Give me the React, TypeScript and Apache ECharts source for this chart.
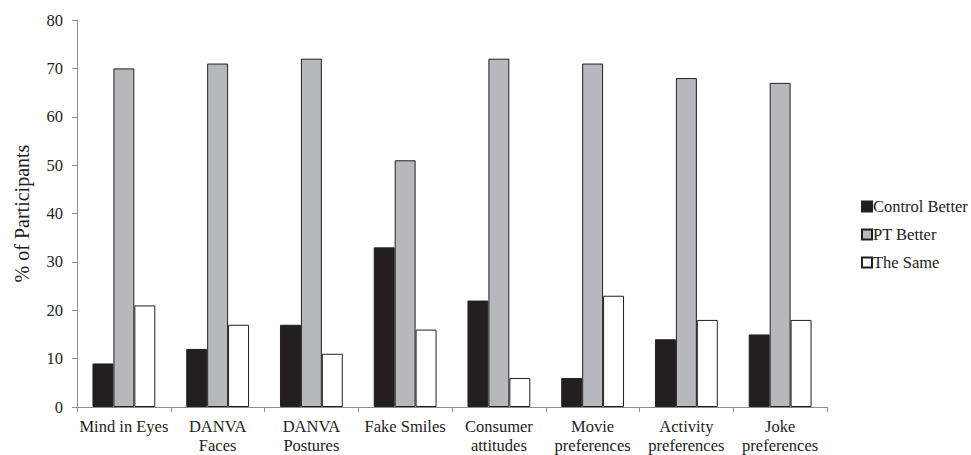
import React, { useEffect, useRef } from "react";
import * as echarts from "echarts";

const categories = [
  "Mind in Eyes",
  "DANVA\nFaces",
  "DANVA\nPostures",
  "Fake Smiles",
  "Consumer\nattitudes",
  "Movie\npreferences",
  "Activity\npreferences",
  "Joke\npreferences",
];
const controlBetter = [9, 12, 17, 33, 22, 6, 14, 15];
const ptBetter = [70, 71, 72, 51, 72, 71, 68, 67];
const theSame = [21, 17, 11, 16, 6, 23, 18, 18];
const seriesNames = ["Control Better", "PT Better", "The Same"];
const yTicks = { min: 0, max: 80, interval: 10 };

const FONT = "'Liberation Serif', 'Times New Roman', serif";

export default function App() {
  const ref = useRef<HTMLDivElement>(null);
  useEffect(() => {
    if (!ref.current) return;
    const chart = echarts.init(ref.current, undefined, { renderer: "svg" });
    const mk = (name: string, data: number[], color: string) => ({
      name,
      type: "bar",
      data,
      barGap: "0%",
      barCategoryGap: "33%",
      itemStyle: { color, borderColor: "#231f20", borderWidth: 1 },
    });
    chart.setOption({
      animation: false,
      backgroundColor: "#ffffff",
      textStyle: { fontFamily: FONT },
      grid: { left: 77, right: 144, top: 20, bottom: 48, containLabel: false },
      legend: {
        orient: "vertical",
        left: 861,
        top: 198,
        padding: 0,
        itemWidth: 10,
        itemHeight: 10,
        itemGap: 11,
        icon: "rect",
        textStyle: { fontFamily: FONT, fontSize: 16.5, color: "#222", padding: [0, 0, 0, -4] },
        data: seriesNames,
      },
      xAxis: {
        type: "category",
        data: categories,
        axisLine: { lineStyle: { color: "#8c8c8c", width: 1 } },
        axisTick: { show: true, alignWithLabel: false, length: 5, lineStyle: { color: "#8c8c8c" } },
        axisLabel: {
          interval: 0,
          fontFamily: FONT,
          fontSize: 16.5,
          color: "#222",
          lineHeight: 19,
          margin: 10,
        },
      },
      yAxis: {
        type: "value",
        min: yTicks.min,
        max: yTicks.max,
        interval: yTicks.interval,
        name: "% of Participants",
        nameLocation: "middle",
        nameGap: 45,
        nameRotate: 90,
        nameTextStyle: { fontFamily: FONT, fontSize: 20, color: "#222" },
        axisLine: { show: true, lineStyle: { color: "#8c8c8c", width: 1 } },
        axisTick: { show: true, length: 5, lineStyle: { color: "#8c8c8c" } },
        splitLine: { show: false },
        axisLabel: { fontFamily: FONT, fontSize: 16.5, color: "#222", margin: 14 },
      },
      series: [
        mk(seriesNames[0], controlBetter, "#231f20"),
        mk(seriesNames[1], ptBetter, "#b7b8bb"),
        mk(seriesNames[2], theSame, "#ffffff"),
      ],
    });
    return () => chart.dispose();
  }, []);
  return (
    <div
      ref={ref}
      style={{ position: "fixed", left: 0, top: 0, width: 971, height: 455 }}
    />
  );
}
